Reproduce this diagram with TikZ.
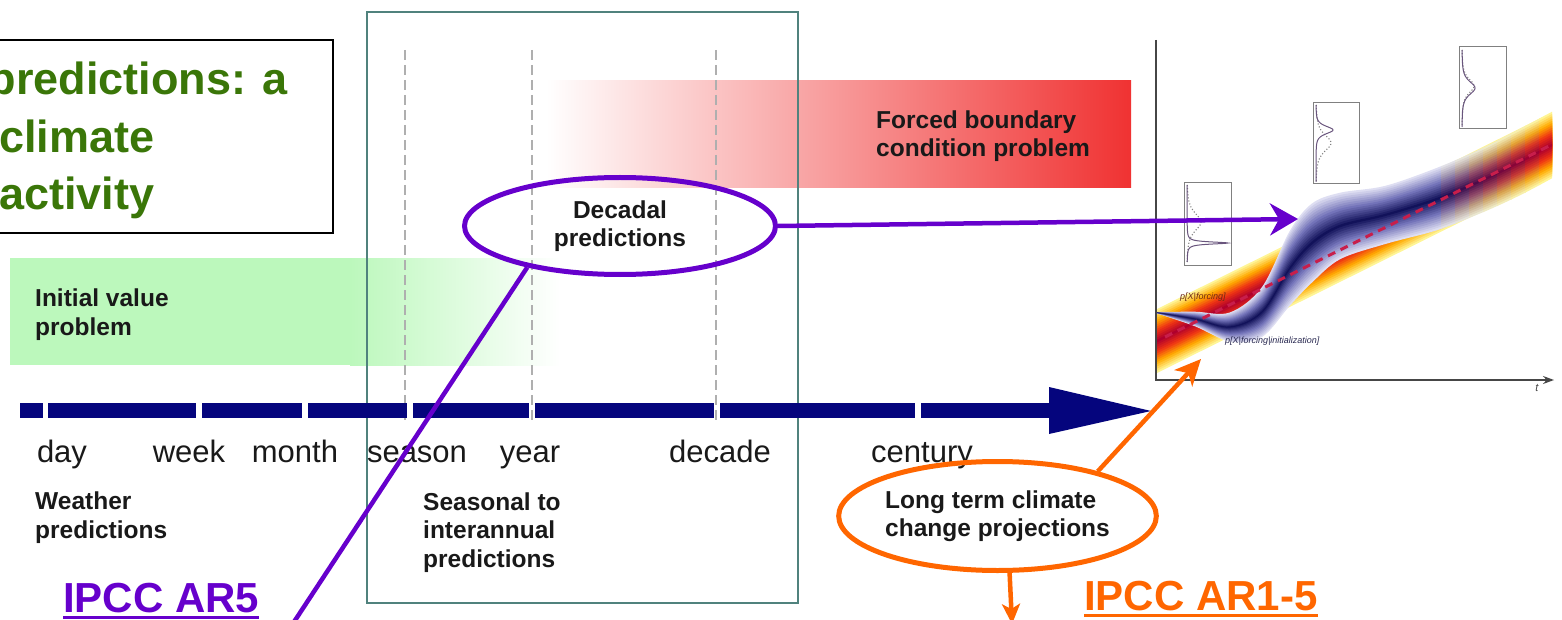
\documentclass[tikz,border=0pt]{standalone}
\usepackage{fontspec}
\setmainfont{Liberation Sans}
\usetikzlibrary{shapes.geometric,arrows.meta,calc}

\definecolor{titlegreen}{RGB}{58,118,8}
\definecolor{purp}{RGB}{102,0,204}
\definecolor{orng}{RGB}{255,102,0}
\definecolor{navybar}{RGB}{5,5,125}
\definecolor{tealbox}{RGB}{80,130,125}
\definecolor{gband}{RGB}{188,248,188}
\definecolor{rband}{RGB}{240,50,50}
\definecolor{dashgray}{RGB}{175,175,175}
\definecolor{txt}{RGB}{25,25,25}
\definecolor{fo1}{RGB}{255,245,150}
\definecolor{fo2}{RGB}{255,170,0}
\definecolor{fo3}{RGB}{238,50,20}
\definecolor{fo4}{RGB}{175,0,45}
\definecolor{bo1}{RGB}{222,222,242}
\definecolor{bo2}{RGB}{115,115,185}
\definecolor{bo3}{RGB}{18,18,90}
\definecolor{curvecol}{RGB}{105,85,125}
\definecolor{fdash}{RGB}{200,30,75}
\definecolor{axcol}{RGB}{70,70,70}
\definecolor{lblred}{RGB}{110,40,20}
\definecolor{lblblue}{RGB}{40,40,80}

\newcommand\mkbluecol[2]{%
  \ifdim #1pt<0.5pt
    \pgfmathsetmacro\myq{200*#1}\colorlet{#2}{bo2!\myq!bo1}%
  \else
    \pgfmathsetmacro\myq{200*#1-100}\colorlet{#2}{bo3!\myq!bo2}%
  \fi}
\newcommand\mkforcecol[2]{%
  \ifdim #1pt<0.3333pt
    \pgfmathsetmacro\myq{300*#1}\colorlet{#2}{fo2!\myq!fo1}%
  \else\ifdim #1pt<0.6667pt
    \pgfmathsetmacro\myq{300*#1-100}\colorlet{#2}{fo3!\myq!fo2}%
  \else
    \pgfmathsetmacro\myq{300*#1-200}\colorlet{#2}{fo4!\myq!fo3}%
  \fi\fi}
\newcommand\blayer[2]{%
 \fill[#2] plot[smooth,tension=0.55] coordinates {(1156,{312.5-#1*0.5}) (1195,{319-#1*7}) (1230,{327-#1*14}) (1262,{312-#1*24}) (1290,{268-#1*36}) (1312,{243-#1*38}) (1340,{226-#1*32}) (1385,{215-#1*28}) (1437,{199-#1*30}) (1483,{180-#1*31}) (1520,{162-#1*32}) (1552,{145-#1*32})}
 -- plot[smooth,tension=0.55] coordinates {(1552,{145+#1*32}) (1520,{162+#1*32}) (1483,{180+#1*31}) (1437,{199+#1*30}) (1385,{215+#1*28}) (1340,{226+#1*32}) (1312,{243+#1*38}) (1290,{268+#1*36}) (1262,{312+#1*24}) (1230,{327+#1*14}) (1195,{319+#1*7}) (1156,{312.5+#1*0.5})} -- cycle;}

\tikzset{
  tl/.style={font=\fontsize{31}{31}\selectfont, text=txt, anchor=base, inner sep=0pt},
  blk/.style={font=\bfseries\fontsize{24.5}{28.5}\selectfont, text=txt, align=left, anchor=base west, inner sep=0pt},
  titletext/.style={font=\bfseries\fontsize{45}{57}\selectfont, text=titlegreen, inner sep=0pt},
  ell/.style={ellipse, line width=5pt, inner sep=0pt, font=\bfseries\fontsize{24.5}{28.5}\selectfont, text=txt},
  ipcc/.style={font=\bfseries\fontsize{42}{42}\selectfont, anchor=base west, inner sep=0pt},
  purpline/.style={purp, line width=4.5pt},
  orline/.style={orng, line width=4.5pt},
  vdash/.style={dashgray, line width=2.5pt, dash pattern=on 10pt off 5pt},
  smallbox/.style={draw=gray, line width=1pt},
  pdfsolid/.style={curvecol, line width=1pt},
  pdfdot/.style={gray, line width=1.1pt, dotted},
  graphlbl/.style={font=\itshape\fontsize{9}{9}\selectfont, anchor=base west, inner sep=0pt}
}

\begin{document}
\begin{tikzpicture}[x=1pt,y=-1pt]
\useasboundingbox (0,0) rectangle (1562,620);
\clip (0,0) rectangle (1562,620);

% background bands
\fill[gband] (10,258) rectangle (352,365);
\shade[left color=gband, right color=white] (350,258) rectangle (560,365);
\shade[left color=white, right color=rband] (546,81) rectangle (1131,188);

% dashed markers
\foreach \xx in {405,532,716}{\draw[vdash] (\xx,50) -- (\xx,423);}

% central rectangle
\draw[tealbox, line width=1.5pt] (367,12) rectangle (798,603);

% timeline
\foreach \a/\b in {20/43,48/196,202/302,308/407,413/529,535/714,720/915,921/1050}{\fill[navybar] (\a,403) rectangle (\b,418);}
\fill[navybar] (1049,387) -- (1151,411) -- (1049,434) -- cycle;

\node[tl] (lday) at (62,462) {day};
\node[tl] (lweek) at (189,462) {week};
\node[tl] (lmonth) at (295,462) {month};
\node[tl] (lseason) at (417,462) {season};
\node[tl] (lyear) at (530,462) {year};
\node[tl] (ldecade) at (720,462) {decade};
\node[tl] (lcentury) at (922,462) {century};

% (multi-line nodes: base = last line)
\node[blk] (weather) at (35,538) {Weather\\predictions};
\node[blk] (seasonal) at (423,567) {Seasonal to\\interannual\\predictions};
\node[blk] (initial) at (35,335) {Initial value\\problem};
\node[blk] (forced) at (876,157) {Forced boundary\\condition problem};

% title box
\draw[black, line width=2pt] (-5,40) rectangle (333,233);
\node[titletext, anchor=base east] (t1) at (288,95) {predictions: a};
\node[titletext, anchor=base west] (t2) at (-1,153) {climate};
\node[titletext, anchor=base west] (t3) at (-1,210) {activity};

% ---------- graph ----------
\foreach \k in {0,...,14}{%
  \pgfmathsetmacro\myp{\k/14}%
  \pgfmathsetmacro\myf{1-0.96*\k/14}%
  \mkforcecol{\myp}{fcur}%
  \fill[fcur] (1156,{341.5-\myf*32}) -- (1552,{144.5-\myf*32}) -- (1552,{144.5+\myf*32}) -- (1156,{341.5+\myf*32}) -- cycle;
}
\begin{scope}
  \clip (1150,0) rectangle (1442,400);
  \foreach \k in {0,...,14}{%
    \pgfmathsetmacro\myp{\k/14}%
    \pgfmathsetmacro\myf{1.04-1.0*\k/14}%
    \mkbluecol{\myp}{bcur}%
    \blayer{\myf}{bcur}
  }
\end{scope}
\foreach \j in {1,...,8}{%
  \begin{scope}
    \clip ({1441+14*(\j-1)},0) rectangle ({1442+14*\j},400);
    \pgfmathsetmacro\myt{100*\j/8}%
    \foreach \k in {0,...,14}{%
      \pgfmathsetmacro\myp{\k/14}%
      \pgfmathsetmacro\myf{1.04-1.0*\k/14}%
      \mkbluecol{\myp}{bcur}%
      \mkforcecol{\myp}{fcur}%
      \colorlet{mcur}{fcur!\myt!bcur}%
      \blayer{\myf}{mcur}
    }
  \end{scope}
}
\draw[fdash, line width=3pt, dash pattern=on 8pt off 6pt] (1165,337) -- (1552,144.5);

% pdf boxes
\draw[smallbox] (1184,183) rectangle (1231,265);
\draw[pdfdot] plot[domain=185:262, samples=60] ({1187+14/(1+((\x-222)/16)*((\x-222)/16))/(1+((\x-222)/16)*((\x-222)/16))}, \x);
\draw[pdfsolid] plot[domain=185:262, samples=220] ({1187+41/(1+((\x-243)/1.3)*((\x-243)/1.3))}, \x);
\draw[smallbox] (1313,103) rectangle (1359,184);
\draw[pdfdot] plot[domain=105:182, samples=60] ({1316+15/(1+((\x-143)/15)*((\x-143)/15))/(1+((\x-143)/15)*((\x-143)/15))}, \x);
\draw[pdfsolid] plot[domain=105:182, samples=120] ({1316+17/(1+((\x-130)/7)*((\x-130)/7))/(1+((\x-130)/7)*((\x-130)/7))}, \x);
\draw[smallbox] (1459,47) rectangle (1506,129);
\draw[pdfdot] plot[domain=50:127, samples=60] ({1462+12/(1+((\x-86)/13)*((\x-86)/13))/(1+((\x-86)/13)*((\x-86)/13))}, \x);
\draw[pdfsolid] plot[domain=50:127, samples=100] ({1462+13/(1+((\x-88)/12)*((\x-88)/12))/(1+((\x-88)/12)*((\x-88)/12))}, \x);

\node[graphlbl, text=lblred] (lforc) at (1180,299) {p[X|forcing]};
\node[graphlbl, text=lblblue] (linit) at (1225,343) {p[X|forcing|initialization]};

% axes
\coordinate (ytop) at (1156,40);
\coordinate (origin) at (1156,380);
\coordinate (xend) at (1554,380);
\draw[axcol, line width=1.5pt, -{Stealth[length=11pt,width=8pt]}] (ytop) -- (origin) -- (xend);
\node[font=\itshape\fontsize{11}{11}\selectfont, text=axcol, inner sep=0pt] (tlab) at (1537,388) {t};

% ellipses and connectors
\node[ell, draw=purp, minimum width=311pt, minimum height=97pt, align=center] (dec) at (620,226) {Decadal\\predictions};
\node[ell, draw=orng, minimum width=316pt, minimum height=109pt, align=left] (lt) at (997.5,516) {Long term climate\\change projections};

\coordinate (decend) at (290,628);
\coordinate (fanhead) at (1298,219);
\coordinate (fanorig) at (1201,359);
\coordinate (ar15) at (1012,624);
\draw[purpline] (dec.204) -- (decend);
\draw[purpline, -{Stealth[length=28pt,width=32pt,inset=9pt]}] (dec.east) -- (fanhead);
\draw[orline, -{Stealth[length=26pt,width=24pt,inset=7pt]}] (lt.24) -- (fanorig);
\draw[orline, -{Stealth[length=20pt,width=18pt,inset=5pt]}] (lt.-78) -- (ar15);

% IPCC labels
\node[ipcc, text=purp] (ar5) at (63,612) {IPCC AR5};
\draw[purp, line width=3pt] ([yshift=-5pt]ar5.base west) -- ([yshift=-5pt]ar5.base east);
\node[ipcc, text=orng] (ar1) at (1084,610) {IPCC AR1-5};
\draw[orng, line width=3pt] ([yshift=-5pt]ar1.base west) -- ([yshift=-5pt]ar1.base east);
\end{tikzpicture}
\end{document}
